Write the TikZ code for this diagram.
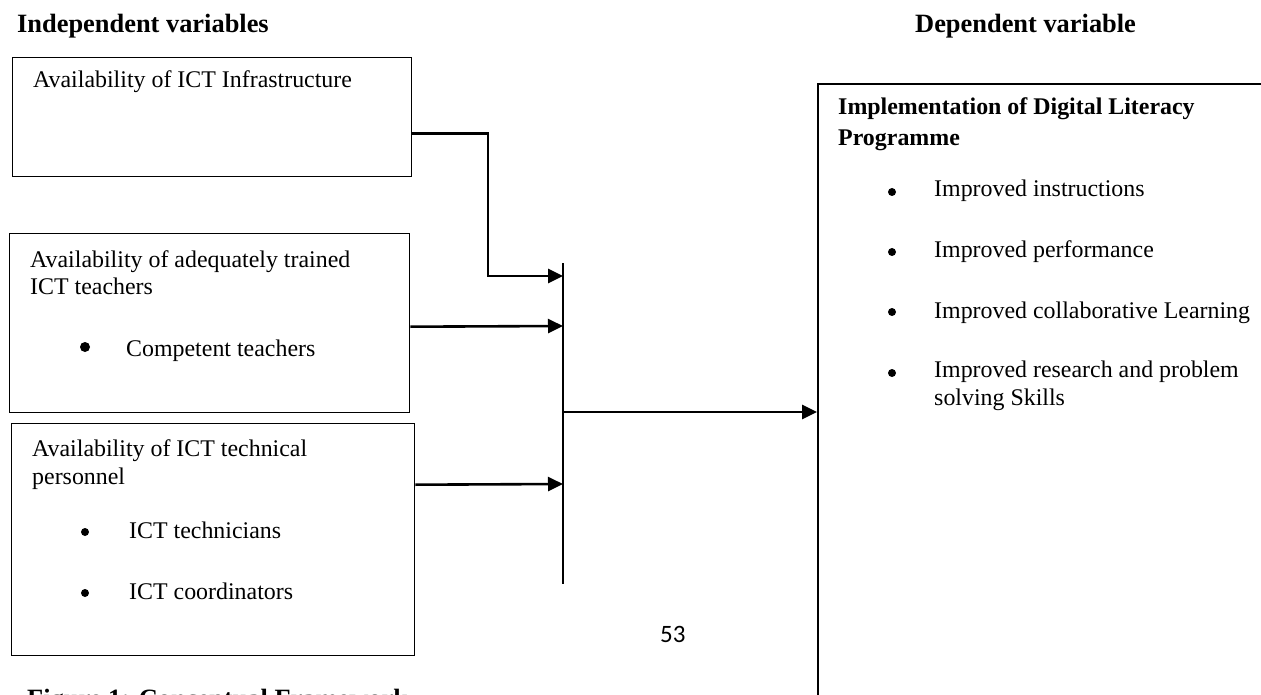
\documentclass[tikz,border=0pt]{standalone}
\usepackage{fontspec}
\setmainfont{Liberation Serif}
\newfontfamily\numfont{Carlito}
\usetikzlibrary{arrows.meta}
\begin{document}
\begin{tikzpicture}[x=1pt,y=-1pt,
  box/.style={draw, line width=1.4pt, inner sep=0pt, anchor=north west},
  txt/.style={anchor=base west, inner sep=0pt, font=\fontsize{23.9}{28}\selectfont},
  btxt/.style={anchor=base west, inner sep=0pt, font=\fontsize{23.9}{28}\selectfont\bfseries},
  head/.style={anchor=base west, inner sep=0pt, font=\fontsize{26.4}{30}\selectfont\bfseries},
  conn/.style={line width=2.6pt, -{Triangle[length=15pt,width=14pt]}},
  bar/.style={line width=1.5pt},
  dot/.style={fill, circle, inner sep=0pt, minimum size=8pt}]
\useasboundingbox (0,0) rectangle (1261,695);
\clip (0,0) rectangle (1261,695);

% headings
\node[head] (hInd) at (17,33) {Independent variables};
\node[head] (hDep) at (915,33) {Dependent variable};

% boxes
\node[box, minimum width=399pt, minimum height=119pt] (b1) at (12,57) {};
\node[box, minimum width=400pt, minimum height=179pt] (b2) at (9,233) {};
\node[box, minimum width=403pt, minimum height=232pt] (b3) at (11,423) {};
\node[box, line width=1.6pt, minimum width=600pt, minimum height=700pt] (rb) at (817,83) {};

% box texts
\node[txt] (t1) at (33,88) {Availability of ICT Infrastructure};
\node[txt] (t2a) at (30,267) {Availability of adequately trained};
\node[txt] (t2b) at (30,294) {ICT teachers};
\node[dot, minimum size=10pt] (d2) at (85,347) {};
\node[txt] (t2c) at (126,356) {Competent teachers};
\node[txt] (t3a) at (32,456) {Availability of ICT technical};
\node[txt] (t3b) at (32,484) {personnel};
\node[dot] (d3a) at (85,532) {};
\node[txt] (t3c) at (129,538) {ICT technicians};
\node[dot] (d3b) at (85,593) {};
\node[txt] (t3d) at (129,599) {ICT coordinators};

% right box texts
\node[btxt] (r1) at (838,115) {Implementation of Digital Literacy};
\node[btxt] (r2) at (838,146) {Programme};
\node[dot] (rd1) at (892,192) {};
\node[txt] (ri1) at (934,197) {Improved instructions};
\node[dot] (rd2) at (892,252) {};
\node[txt] (ri2) at (934,258) {Improved performance};
\node[dot] (rd3) at (892,312) {};
\node[txt] (ri3) at (934,318) {Improved collaborative Learning};
\node[dot] (rd4) at (892,373) {};
\node[txt] (ri4) at (934,377) {Improved research and problem};
\node[txt] (ri5) at (934,405) {solving Skills};

% bar and connectors
\coordinate (bt) at (563,263);
\coordinate (bb) at (563,584);
\coordinate (in1) at (563,276);
\coordinate (in2) at (563,326);
\coordinate (in3) at (563,484);
\coordinate (out) at (563,412);
\coordinate (elb) at (488,276);
\draw[bar] (bt) -- (bb);
\draw[conn] ([yshift=-16.5pt]b1.east) -| (elb) -- (in1);
\draw[conn] ([yshift=-3.5pt]b2.east) -- (in2);
\draw[conn] ([yshift=55pt]b3.east) -- (in3);
\draw[conn] (out) -- (rb.west |- out);

% page number and caption
\node[anchor=base west, inner sep=0pt, font=\numfont\fontsize{25}{30}\selectfont] (pg) at (660,642) {53};
\node[head] (cap) at (27,707) {Figure 1: Conceptual Framework};
\end{tikzpicture}
\end{document}
